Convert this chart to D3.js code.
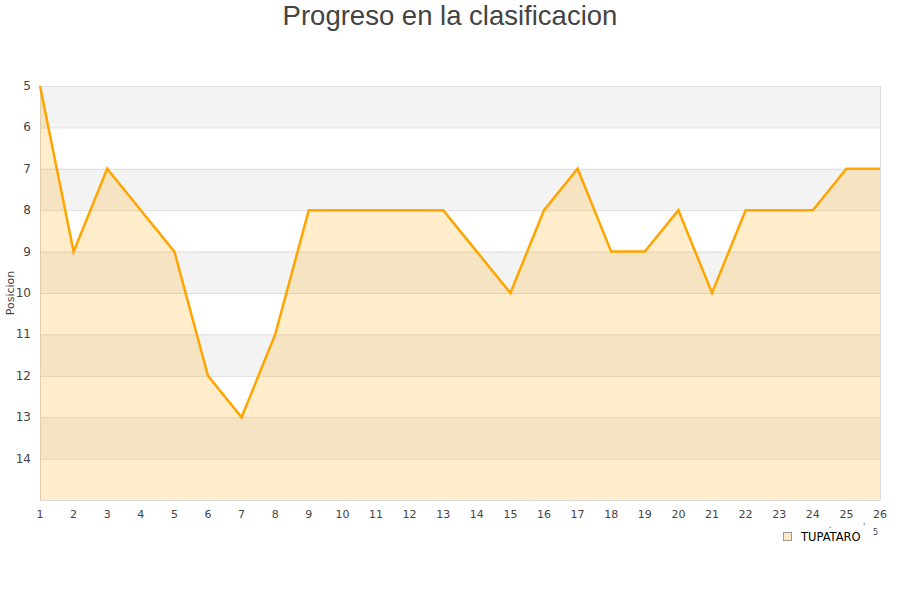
<!DOCTYPE html>
<html><head><meta charset="utf-8">
<script src="https://cdn.jsdelivr.net/npm/d3@7"></script>
<style>body{margin:0;background:#fff}svg{display:block;font-family:"DejaVu Sans",sans-serif}</style>
</head><body><svg id="c" width="900" height="600"></svg>
<script>
const rounds = [1,2,3,4,5,6,7,8,9,10,11,12,13,14,15,16,17,18,19,20,21,22,23,24,25,26];
const positions = [5,9,7,8,9,12,13,11,8,8,8,8,8,9,10,8,7,9,9,8,10,8,8,8,7,7];
const yTicks = [5,6,7,8,9,10,11,12,13,14];
const seriesName = "TUPATARO";
const title = "Progreso en la clasificacion";
const yTitle = "Posicion";

const svg = d3.select("#c");
const L=40, R=880, T=86, B=500;
const x = d3.scaleLinear().domain([1,26]).range([L,R]);
const y = d3.scaleLinear().domain([5,15]).range([T,B]);

const bands = d3.range(5,15);
svg.selectAll("rect.band").data(bands).enter().append("rect")
  .attr("x",L).attr("width",R-L)
  .attr("y",d=>y(d)).attr("height",d=>y(d+1)-y(d))
  .attr("fill",(d,i)=>i%2===0?"#f3f3f3":"#ffffff");
svg.selectAll("line.grid").data(d3.range(5,16)).enter().append("line")
  .attr("x1",L).attr("x2",R).attr("y1",d=>y(d)+0.5).attr("y2",d=>y(d)+0.5)
  .attr("stroke","#dddddd").attr("stroke-width",1);
svg.append("line").attr("x1",L+0.5).attr("x2",L+0.5).attr("y1",T).attr("y2",B).attr("stroke","#d8d8d8");
svg.append("line").attr("x1",R+0.5).attr("x2",R+0.5).attr("y1",T).attr("y2",B).attr("stroke","#dddddd");

const data = rounds.map((r,i)=>({r,p:positions[i]}));
const area = d3.area().x(d=>x(d.r)).y0(y(15)).y1(d=>y(d.p));
svg.append("path").datum(data).attr("d",area).attr("fill","#ffa500").attr("fill-opacity",0.2);
const line = d3.line().x(d=>x(d.r)).y(d=>y(d.p));
svg.append("path").datum(data).attr("d",line).attr("fill","none").attr("stroke","#ffa500").attr("stroke-width",2.5).attr("stroke-linejoin","miter");

svg.selectAll("text.yl").data(yTicks).enter().append("text")
  .attr("x",31).attr("y",d=>y(d)+4).attr("text-anchor","end")
  .attr("font-size",12).attr("fill","#444").text(d=>d);
svg.selectAll("text.xl").data(rounds).enter().append("text")
  .attr("x",d=>x(d)).attr("y",518).attr("text-anchor","middle")
  .attr("font-size",11).attr("fill","#444").text(d=>d);

svg.append("text").attr("x",450).attr("y",25).attr("text-anchor","middle")
  .attr("font-size",27.5).attr("fill","#444").attr("font-family","'Liberation Sans',Arial,sans-serif").text(title);
svg.append("text").attr("transform","translate(14,293) rotate(-90)").attr("text-anchor","middle")
  .attr("font-size",11).attr("fill","#444").text(yTitle);

svg.append("rect").attr("x",783.5).attr("y",532.5).attr("width",8).attr("height",8)
  .attr("fill","#ffe9c0").attr("stroke","#999");
svg.append("text").attr("x",801).attr("y",541).attr("font-size",11.5).attr("fill","#000").text(seriesName);
svg.append("text").attr("x",873).attr("y",535).attr("font-size",8).attr("fill","#444").text("5");
svg.append("text").attr("x",829).attr("y",528).attr("font-size",8).attr("fill","#444").text(".");
svg.append("text").attr("x",863).attr("y",530).attr("font-size",8).attr("fill","#444").text("'");
</script></body></html>
